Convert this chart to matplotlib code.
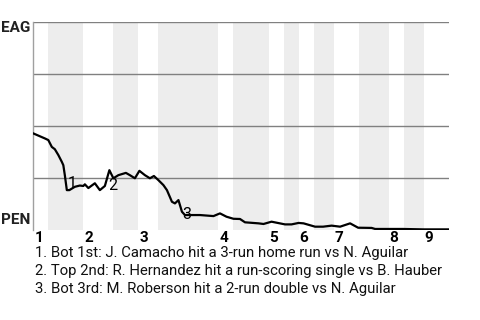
import matplotlib
matplotlib.use('Agg')
import matplotlib.pyplot as plt

plt.rcParams['font.family'] = ['Roboto', 'DejaVu Sans']

# plate appearances in each half-inning (top 1st, bot 1st, ... top 9th)
half_innings = [3, 7, 6, 5, 4, 12, 3, 7, 3, 3, 3, 4, 5, 6, 3, 4, 5]
inning_labels = ['1', '2', '3', '4', '5', '6', '7', '8', '9']

# win probability for EAG (1 = EAG, 0 = PEN) against plate appearance
play = [0.0, 2.3, 3.0, 3.7, 4.3, 5.0, 5.7, 6.0, 6.3, 6.7, 7.2, 8.3, 9.3, 10.0,
        10.3, 11.0, 12.3, 13.3, 14.3, 15.2, 16.0, 17.0, 18.5, 19.3, 20.3, 21.2,
        22.3, 23.3, 24.1, 25.0, 26.0, 26.7, 27.7, 28.3, 29.0, 29.7, 30.3, 33.3,
        36.0, 37.3, 38.6, 40.0, 41.3, 42.3, 45.0, 46.0, 47.6, 50.3, 51.6, 53.0,
        54.0, 56.3, 57.9, 59.6, 61.3, 63.3, 64.9, 67.6, 68.3, 70.9, 73.9, 77.9,
        83.0]
win_prob = [0.465, 0.441, 0.433, 0.400, 0.389, 0.361, 0.328, 0.312, 0.264,
            0.192, 0.192, 0.208, 0.214, 0.212, 0.220, 0.202, 0.225, 0.192,
            0.212, 0.288, 0.249, 0.264, 0.275, 0.264, 0.249, 0.285, 0.264,
            0.249, 0.260, 0.240, 0.216, 0.192, 0.136, 0.128, 0.144, 0.088,
            0.072, 0.072, 0.067, 0.080, 0.064, 0.054, 0.053, 0.037, 0.032,
            0.029, 0.040, 0.027, 0.027, 0.034, 0.032, 0.016, 0.016, 0.021,
            0.016, 0.032, 0.011, 0.010, 0.005, 0.005, 0.005, 0.003, 0.003]

# key plays: marker label position
key_x = [7.7, 15.8, 30.7]
key_y = [0.226, 0.216, 0.077]
key_text = [
    '1. Bot 1st: J. Camacho hit a 3-run home run vs N. Aguilar',
    '2. Top 2nd: R. Hernandez hit a run-scoring single vs B. Hauber',
    '3. Bot 3rd: M. Roberson hit a 2-run double vs N. Aguilar',
]

fig = plt.figure(figsize=(4.8, 3.2), dpi=100)
ax = fig.add_axes([33.3 / 480, 90 / 320, 415.4 / 480, 207.7 / 320])

total = sum(half_innings)
starts = []
pos = 0
for i, n in enumerate(half_innings):
    if i % 2 == 1:
        ax.axvspan(pos, pos + n, color='#ededed', lw=0, zorder=0)
    else:
        starts.append(pos)
    pos += n

for yv in [0.25, 0.5, 0.75, 1.0]:
    ax.axhline(yv, color='#808080', lw=1.0, zorder=1)

ax.plot(play, win_prob, color='black', lw=1.6, zorder=3)

for i, (kx, ky) in enumerate(zip(key_x, key_y)):
    ax.text(kx, ky, str(i + 1), ha='center', va='center', fontsize=11.5,
            color='black', zorder=4)

ax.set_xlim(0, total)
ax.set_ylim(0, 1)
ax.set_xticks([])
ax.set_yticks([])
for s in ['top', 'right', 'bottom']:
    ax.spines[s].set_visible(False)
ax.spines['left'].set_color('#a0a0a0')
ax.spines['left'].set_linewidth(1.0)

for s, lab in zip(starts, inning_labels):
    ax.annotate(lab, xy=(s, 0), xycoords=('data', 'axes fraction'),
                xytext=(1, -1), textcoords='offset pixels', ha='left',
                va='top', fontsize=11, fontweight='bold')

ax.annotate('EAG', xy=(0, 1), xycoords='axes fraction', xytext=(-3, -6),
            textcoords='offset pixels', ha='right', va='center',
            fontsize=11, fontweight='bold', color='#222222')
ax.annotate('PEN', xy=(0, 0), xycoords='axes fraction', xytext=(-3, 10),
            textcoords='offset pixels', ha='right', va='center',
            fontsize=11, fontweight='bold', color='#222222')

for i, t in enumerate(key_text):
    fig.text(35 / 480, 1 - (253.5 + 18 * i) / 320, t, ha='left', va='center',
             fontsize=10.7, color='#111111')

fig.savefig('out.png', dpi=100)
